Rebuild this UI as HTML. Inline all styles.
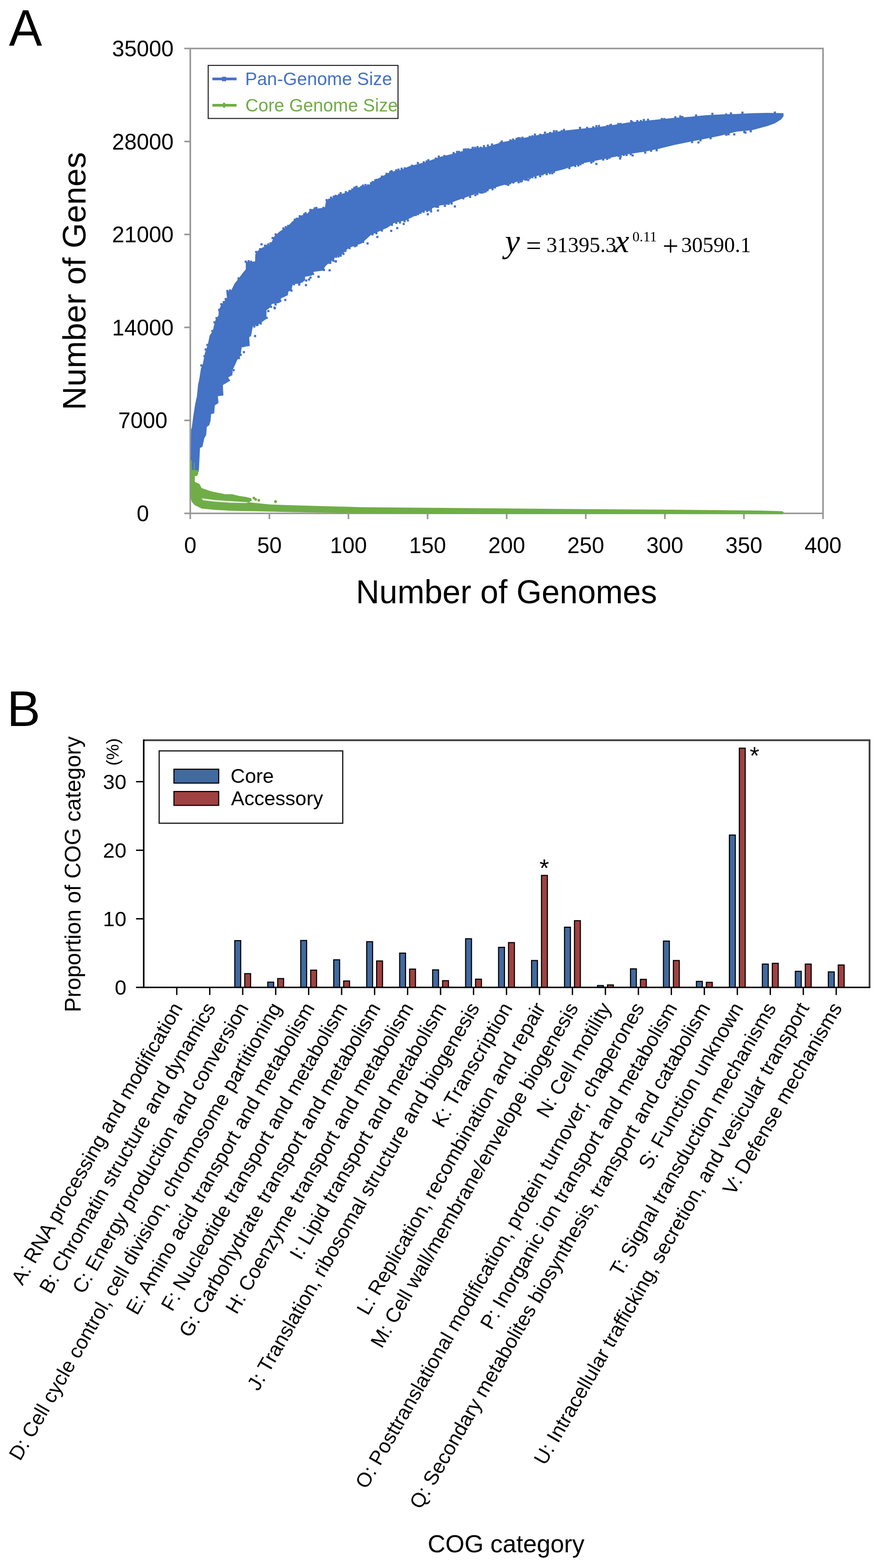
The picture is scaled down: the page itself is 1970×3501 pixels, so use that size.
<!DOCTYPE html>
<html><head><meta charset="utf-8"><title>Pan-genome and COG figure</title>
<style>html,body{margin:0;padding:0;background:#fff;overflow:hidden;}svg{display:block;}</style></head>
<body><svg width="1970" height="3501" viewBox="0 0 1970 3501">
<rect width="1970" height="3501" fill="#fff"/>
<text x="20" y="102.5" font-size="111" font-family="'Liberation Sans', Arial, Helvetica, sans-serif" transform="translate(0,102.5) scale(1,1.035) translate(0,-102.5)">A</text>
<g stroke="#989898" stroke-width="3.6" fill="none" stroke-linecap="butt">
<path d="M411.6,108.3 H1838.3 V1159.0 M425.0,108.3 V1146.2 M411.6,1146.2 H1838.3"/>
<path d="M411.6,938.6 H425.0"/>
<path d="M411.6,731.0 H425.0"/>
<path d="M411.6,523.5 H425.0"/>
<path d="M411.6,315.9 H425.0"/>
<path d="M425.0,1146.2 V1159.0"/>
<path d="M601.7,1146.2 V1159.0"/>
<path d="M778.3,1146.2 V1159.0"/>
<path d="M955.0,1146.2 V1159.0"/>
<path d="M1131.7,1146.2 V1159.0"/>
<path d="M1308.3,1146.2 V1159.0"/>
<path d="M1485.0,1146.2 V1159.0"/>
<path d="M1661.6,1146.2 V1159.0"/>
</g>
<g font-family="'Liberation Sans', Arial, Helvetica, sans-serif" font-size="49.5" text-anchor="middle" fill="#000">
<text x="319" y="1163.8">0</text>
<text x="319" y="956.2">7000</text>
<text x="319" y="748.6">14000</text>
<text x="319" y="541.1">21000</text>
<text x="319" y="333.5">28000</text>
<text x="319" y="125.9">35000</text>
<text x="425.0" y="1235">0</text>
<text x="601.7" y="1235">50</text>
<text x="778.3" y="1235">100</text>
<text x="955.0" y="1235">150</text>
<text x="1131.7" y="1235">200</text>
<text x="1308.3" y="1235">250</text>
<text x="1485.0" y="1235">300</text>
<text x="1661.6" y="1235">350</text>
<text x="1838.3" y="1235">400</text>
</g>
<text x="795" y="1347.3" font-size="73.4" font-family="'Liberation Sans', Arial, Helvetica, sans-serif" textLength="672.6" lengthAdjust="spacingAndGlyphs">Number of Genomes</text>
<text transform="translate(191.2,627.6) rotate(-90)" text-anchor="middle" font-size="73" font-family="'Liberation Sans', Arial, Helvetica, sans-serif">Number of Genes</text>
<path d="M426.0,1030.0 L426.5,975.0 L427.0,958.6 L428.1,956.2 L431.6,930.0 L435.7,903.8 L439.8,884.5 L442.6,856.9 L442.1,860.0 L444.8,848.3 L449.0,822.1 L453.1,812.4 L457.9,787.6 L464.1,769.7 L468.3,749.0 L475.2,739.3 L477.9,726.9 L481.4,714.5 L488.3,703.4 L488.3,693.8 L493.1,682.8 L498.6,675.9 L506.9,664.8 L505.5,652.4 L516.6,648.3 L524.1,633.1 L531.7,623.4 L544.1,606.9 L549.0,601.4 L549.0,584.8 L560.0,584.8 L569.7,583.4 L570.3,567.6 L576.6,559.3 L587.6,551.7 L597.9,549.7 L605.5,543.4 L611.7,529.0 L624.1,517.2 L641.4,506.2 L654.5,493.1 L664.8,487.6 L671.7,481.4 L686.9,476.6 L693.8,467.6 L725.5,463.4 L728.3,449.0 L754.5,435.2 L774.5,429.7 L791.0,420.3 L824.1,413.1 L844.8,398.6 L871.7,384.1 L896.6,379.0 L914.5,371.0 L949.0,362.4 L983.4,350.3 L1018.0,341.7 L1052.4,331.4 L1086.9,328.0 L1121.4,317.6 L1155.9,310.7 L1190.3,303.8 L1224.8,296.9 L1259.3,291.7 L1300.0,287.2 L1334.5,283.8 L1369.0,279.3 L1403.4,273.4 L1437.9,270.0 L1472.4,266.6 L1506.9,263.1 L1541.4,260.7 L1575.9,257.2 L1610.3,255.5 L1644.8,254.5 L1679.3,252.8 L1713.8,252.1 L1750.0,252.8 L1750.0,259.7 L1744.8,266.6 L1731.0,275.2 L1713.8,281.4 L1679.3,290.7 L1644.8,294.1 L1610.3,302.8 L1575.9,309.7 L1541.4,316.6 L1506.9,323.4 L1472.4,332.1 L1437.9,339.0 L1403.4,344.1 L1369.0,351.0 L1334.5,357.9 L1300.0,364.8 L1259.3,377.9 L1224.8,386.6 L1190.3,395.2 L1155.9,405.5 L1121.4,414.1 L1086.9,424.5 L1052.4,436.6 L1018.0,448.5 L1000.0,456.6 L983.5,458.6 L948.3,471.0 L927.6,481.4 L906.9,491.7 L880.0,497.9 L865.5,508.3 L828.3,524.8 L807.6,543.5 L778.6,553.8 L760.0,571.0 L749.0,571.0 L746.2,579.3 L732.4,589.0 L725.5,595.9 L722.8,604.1 L700.7,606.9 L696.6,615.2 L681.4,617.9 L681.4,626.2 L670.3,633.1 L653.8,634.5 L651.0,648.3 L644.1,651.0 L642.8,659.3 L627.6,666.2 L624.8,675.9 L620.0,677.2 L607.6,678.6 L601.4,688.3 L595.2,692.4 L595.2,711.7 L580.0,722.8 L564.8,728.3 L560.7,750.3 L556.6,753.1 L557.9,772.4 L540.0,775.2 L537.2,794.5 L530.3,802.8 L524.8,815.2 L517.9,829.0 L519.3,837.2 L509.7,842.8 L514.3,850.0 L497.8,859.7 L499.0,883.0 L486.7,884.5 L488.0,899.7 L479.8,905.2 L478.4,923.0 L471.6,924.5 L470.2,939.7 L467.4,949.3 L461.9,953.4 L460.5,971.4 L456.4,978.3 L452.2,997.6 L446.7,1000.3 L445.3,1029.3 L444.0,1053.0 L426.0,1053.0 Z" fill="#4472C4"/>
<g fill="#4472C4">
<rect x="447.4" y="813.6" width="4.8" height="4.8"/><rect x="454.4" y="792.8" width="4.8" height="4.8"/><rect x="457.0" y="778.0" width="4.8" height="4.8"/><rect x="460.9" y="767.8" width="4.8" height="4.8"/><rect x="471.9" y="736.5" width="4.8" height="4.8"/><rect x="476.6" y="717.4" width="4.8" height="4.8"/><rect x="481.2" y="707.8" width="4.8" height="4.8"/><rect x="487.2" y="689.4" width="4.8" height="4.8"/><rect x="491.9" y="676.9" width="4.8" height="4.8"/><rect x="497.3" y="672.3" width="4.8" height="4.8"/><rect x="501.7" y="665.3" width="4.8" height="4.8"/><rect x="505.5" y="647.2" width="4.8" height="4.8"/><rect x="511.4" y="646.1" width="4.8" height="4.8"/><rect x="514.8" y="828.6" width="4.8" height="4.8"/><rect x="519.3" y="824.1" width="4.8" height="4.8"/><rect x="530.4" y="619.3" width="4.8" height="4.8"/><rect x="531.2" y="797.1" width="4.8" height="4.8"/><rect x="535.1" y="789.9" width="4.8" height="4.8"/><rect x="540.7" y="770.5" width="4.8" height="4.8"/><rect x="546.5" y="582.0" width="4.8" height="4.8"/><rect x="545.9" y="762.1" width="4.8" height="4.8"/><rect x="552.8" y="580.8" width="4.8" height="4.8"/><rect x="558.3" y="581.9" width="4.8" height="4.8"/><rect x="565.6" y="726.7" width="4.8" height="4.8"/><rect x="569.8" y="560.2" width="4.8" height="4.8"/><rect x="570.8" y="723.4" width="4.8" height="4.8"/><rect x="573.0" y="722.7" width="4.8" height="4.8"/><rect x="578.6" y="554.0" width="4.8" height="4.8"/><rect x="579.9" y="719.8" width="4.8" height="4.8"/><rect x="585.4" y="708.2" width="4.8" height="4.8"/><rect x="589.6" y="546.2" width="4.8" height="4.8"/><rect x="588.8" y="696.7" width="4.8" height="4.8"/><rect x="594.1" y="546.6" width="4.8" height="4.8"/><rect x="593.2" y="707.4" width="4.8" height="4.8"/><rect x="596.9" y="543.2" width="4.8" height="4.8"/><rect x="597.0" y="692.2" width="4.8" height="4.8"/><rect x="602.1" y="540.8" width="4.8" height="4.8"/><rect x="603.1" y="682.6" width="4.8" height="4.8"/><rect x="606.5" y="529.1" width="4.8" height="4.8"/><rect x="613.4" y="521.1" width="4.8" height="4.8"/><rect x="613.1" y="677.5" width="4.8" height="4.8"/><rect x="623.8" y="669.6" width="4.8" height="4.8"/><rect x="630.6" y="507.6" width="4.8" height="4.8"/><rect x="635.8" y="504.7" width="4.8" height="4.8"/><rect x="641.2" y="502.0" width="4.8" height="4.8"/><rect x="648.6" y="646.5" width="4.8" height="4.8"/><rect x="656.0" y="488.1" width="4.8" height="4.8"/><rect x="654.2" y="632.2" width="4.8" height="4.8"/><rect x="660.4" y="486.0" width="4.8" height="4.8"/><rect x="667.2" y="480.4" width="4.8" height="4.8"/><rect x="665.9" y="633.0" width="4.8" height="4.8"/><rect x="671.4" y="626.2" width="4.8" height="4.8"/><rect x="677.1" y="476.1" width="4.8" height="4.8"/><rect x="680.1" y="473.7" width="4.8" height="4.8"/><rect x="681.6" y="623.9" width="4.8" height="4.8"/><rect x="690.9" y="466.3" width="4.8" height="4.8"/><rect x="691.1" y="617.4" width="4.8" height="4.8"/><rect x="696.8" y="609.2" width="4.8" height="4.8"/><rect x="700.4" y="463.0" width="4.8" height="4.8"/><rect x="704.2" y="461.8" width="4.8" height="4.8"/><rect x="720.0" y="461.7" width="4.8" height="4.8"/><rect x="721.2" y="600.4" width="4.8" height="4.8"/><rect x="727.1" y="444.3" width="4.8" height="4.8"/><rect x="732.7" y="443.5" width="4.8" height="4.8"/><rect x="733.4" y="584.4" width="4.8" height="4.8"/><rect x="736.9" y="438.9" width="4.8" height="4.8"/><rect x="735.4" y="584.4" width="4.8" height="4.8"/><rect x="743.2" y="436.6" width="4.8" height="4.8"/><rect x="742.3" y="579.7" width="4.8" height="4.8"/><rect x="747.4" y="434.9" width="4.8" height="4.8"/><rect x="748.2" y="570.8" width="4.8" height="4.8"/><rect x="755.0" y="432.6" width="4.8" height="4.8"/><rect x="753.5" y="570.2" width="4.8" height="4.8"/><rect x="758.5" y="428.9" width="4.8" height="4.8"/><rect x="758.5" y="568.5" width="4.8" height="4.8"/><rect x="764.7" y="564.5" width="4.8" height="4.8"/><rect x="770.1" y="426.5" width="4.8" height="4.8"/><rect x="769.0" y="557.5" width="4.8" height="4.8"/><rect x="778.2" y="424.1" width="4.8" height="4.8"/><rect x="778.1" y="551.6" width="4.8" height="4.8"/><rect x="784.4" y="420.7" width="4.8" height="4.8"/><rect x="789.3" y="416.7" width="4.8" height="4.8"/><rect x="790.3" y="547.1" width="4.8" height="4.8"/><rect x="794.0" y="414.7" width="4.8" height="4.8"/><rect x="793.8" y="545.8" width="4.8" height="4.8"/><rect x="804.7" y="414.8" width="4.8" height="4.8"/><rect x="808.2" y="412.0" width="4.8" height="4.8"/><rect x="808.7" y="537.8" width="4.8" height="4.8"/><rect x="813.8" y="410.6" width="4.8" height="4.8"/><rect x="819.6" y="411.5" width="4.8" height="4.8"/><rect x="826.3" y="406.5" width="4.8" height="4.8"/><rect x="830.1" y="404.0" width="4.8" height="4.8"/><rect x="829.5" y="521.0" width="4.8" height="4.8"/><rect x="835.7" y="400.3" width="4.8" height="4.8"/><rect x="838.9" y="399.2" width="4.8" height="4.8"/><rect x="838.2" y="518.3" width="4.8" height="4.8"/><rect x="850.6" y="391.9" width="4.8" height="4.8"/><rect x="850.6" y="512.3" width="4.8" height="4.8"/><rect x="861.0" y="385.7" width="4.8" height="4.8"/><rect x="869.3" y="381.7" width="4.8" height="4.8"/><rect x="872.2" y="379.9" width="4.8" height="4.8"/><rect x="873.0" y="499.7" width="4.8" height="4.8"/><rect x="882.4" y="377.9" width="4.8" height="4.8"/><rect x="882.7" y="495.3" width="4.8" height="4.8"/><rect x="887.6" y="376.3" width="4.8" height="4.8"/><rect x="891.0" y="494.4" width="4.8" height="4.8"/><rect x="894.6" y="374.4" width="4.8" height="4.8"/><rect x="901.7" y="373.5" width="4.8" height="4.8"/><rect x="901.3" y="491.5" width="4.8" height="4.8"/><rect x="908.8" y="489.8" width="4.8" height="4.8"/><rect x="917.8" y="367.6" width="4.8" height="4.8"/><rect x="926.3" y="477.6" width="4.8" height="4.8"/><rect x="930.9" y="361.6" width="4.8" height="4.8"/><rect x="931.4" y="475.6" width="4.8" height="4.8"/><rect x="936.8" y="472.7" width="4.8" height="4.8"/><rect x="944.0" y="360.1" width="4.8" height="4.8"/><rect x="943.9" y="470.3" width="4.8" height="4.8"/><rect x="950.6" y="358.2" width="4.8" height="4.8"/><rect x="951.4" y="468.5" width="4.8" height="4.8"/><rect x="954.3" y="355.4" width="4.8" height="4.8"/><rect x="955.4" y="466.4" width="4.8" height="4.8"/><rect x="960.2" y="464.9" width="4.8" height="4.8"/><rect x="970.9" y="351.7" width="4.8" height="4.8"/><rect x="972.3" y="459.2" width="4.8" height="4.8"/><rect x="977.6" y="347.2" width="4.8" height="4.8"/><rect x="975.9" y="459.3" width="4.8" height="4.8"/><rect x="990.2" y="345.9" width="4.8" height="4.8"/><rect x="991.3" y="457.2" width="4.8" height="4.8"/><rect x="999.6" y="452.6" width="4.8" height="4.8"/><rect x="1006.3" y="452.1" width="4.8" height="4.8"/><rect x="1010.8" y="339.3" width="4.8" height="4.8"/><rect x="1018.6" y="336.9" width="4.8" height="4.8"/><rect x="1022.5" y="336.8" width="4.8" height="4.8"/><rect x="1033.6" y="331.9" width="4.8" height="4.8"/><rect x="1032.5" y="440.5" width="4.8" height="4.8"/><rect x="1037.9" y="331.2" width="4.8" height="4.8"/><rect x="1043.2" y="330.9" width="4.8" height="4.8"/><rect x="1047.6" y="437.2" width="4.8" height="4.8"/><rect x="1053.4" y="327.7" width="4.8" height="4.8"/><rect x="1058.6" y="327.7" width="4.8" height="4.8"/><rect x="1059.4" y="433.3" width="4.8" height="4.8"/><rect x="1064.3" y="326.0" width="4.8" height="4.8"/><rect x="1063.9" y="430.6" width="4.8" height="4.8"/><rect x="1071.2" y="327.4" width="4.8" height="4.8"/><rect x="1070.3" y="427.4" width="4.8" height="4.8"/><rect x="1074.5" y="427.6" width="4.8" height="4.8"/><rect x="1078.6" y="324.0" width="4.8" height="4.8"/><rect x="1078.3" y="426.3" width="4.8" height="4.8"/><rect x="1082.5" y="425.0" width="4.8" height="4.8"/><rect x="1087.3" y="322.6" width="4.8" height="4.8"/><rect x="1086.6" y="422.3" width="4.8" height="4.8"/><rect x="1096.6" y="320.3" width="4.8" height="4.8"/><rect x="1097.7" y="420.0" width="4.8" height="4.8"/><rect x="1103.1" y="416.0" width="4.8" height="4.8"/><rect x="1115.4" y="316.9" width="4.8" height="4.8"/><rect x="1118.4" y="313.6" width="4.8" height="4.8"/><rect x="1128.4" y="408.7" width="4.8" height="4.8"/><rect x="1132.9" y="410.3" width="4.8" height="4.8"/><rect x="1137.7" y="311.1" width="4.8" height="4.8"/><rect x="1136.9" y="406.7" width="4.8" height="4.8"/><rect x="1143.5" y="309.2" width="4.8" height="4.8"/><rect x="1144.2" y="405.0" width="4.8" height="4.8"/><rect x="1151.4" y="307.8" width="4.8" height="4.8"/><rect x="1155.3" y="306.2" width="4.8" height="4.8"/><rect x="1155.9" y="404.5" width="4.8" height="4.8"/><rect x="1159.0" y="306.6" width="4.8" height="4.8"/><rect x="1160.7" y="402.8" width="4.8" height="4.8"/><rect x="1164.5" y="305.2" width="4.8" height="4.8"/><rect x="1163.5" y="401.5" width="4.8" height="4.8"/><rect x="1170.4" y="398.4" width="4.8" height="4.8"/><rect x="1174.0" y="398.4" width="4.8" height="4.8"/><rect x="1180.8" y="303.2" width="4.8" height="4.8"/><rect x="1180.7" y="395.3" width="4.8" height="4.8"/><rect x="1186.7" y="301.9" width="4.8" height="4.8"/><rect x="1186.5" y="393.3" width="4.8" height="4.8"/><rect x="1192.4" y="298.2" width="4.8" height="4.8"/><rect x="1193.8" y="393.7" width="4.8" height="4.8"/><rect x="1204.2" y="298.6" width="4.8" height="4.8"/><rect x="1204.2" y="391.0" width="4.8" height="4.8"/><rect x="1209.2" y="386.8" width="4.8" height="4.8"/><rect x="1214.8" y="293.8" width="4.8" height="4.8"/><rect x="1218.7" y="386.5" width="4.8" height="4.8"/><rect x="1226.3" y="294.4" width="4.8" height="4.8"/><rect x="1225.9" y="384.4" width="4.8" height="4.8"/><rect x="1231.2" y="384.3" width="4.8" height="4.8"/><rect x="1234.9" y="290.5" width="4.8" height="4.8"/><rect x="1234.8" y="381.6" width="4.8" height="4.8"/><rect x="1240.6" y="290.7" width="4.8" height="4.8"/><rect x="1252.1" y="290.5" width="4.8" height="4.8"/><rect x="1257.3" y="287.6" width="4.8" height="4.8"/><rect x="1269.3" y="372.9" width="4.8" height="4.8"/><rect x="1282.4" y="368.3" width="4.8" height="4.8"/><rect x="1289.2" y="366.9" width="4.8" height="4.8"/><rect x="1293.0" y="283.1" width="4.8" height="4.8"/><rect x="1294.0" y="364.3" width="4.8" height="4.8"/><rect x="1299.1" y="361.6" width="4.8" height="4.8"/><rect x="1309.0" y="283.3" width="4.8" height="4.8"/><rect x="1318.3" y="360.4" width="4.8" height="4.8"/><rect x="1322.7" y="281.9" width="4.8" height="4.8"/><rect x="1322.7" y="357.7" width="4.8" height="4.8"/><rect x="1329.6" y="279.4" width="4.8" height="4.8"/><rect x="1335.4" y="278.8" width="4.8" height="4.8"/><rect x="1344.9" y="353.8" width="4.8" height="4.8"/><rect x="1354.0" y="279.0" width="4.8" height="4.8"/><rect x="1353.8" y="352.3" width="4.8" height="4.8"/><rect x="1359.5" y="278.3" width="4.8" height="4.8"/><rect x="1358.8" y="349.7" width="4.8" height="4.8"/><rect x="1362.2" y="276.4" width="4.8" height="4.8"/><rect x="1378.6" y="274.5" width="4.8" height="4.8"/><rect x="1379.1" y="345.8" width="4.8" height="4.8"/><rect x="1383.5" y="274.3" width="4.8" height="4.8"/><rect x="1383.9" y="347.2" width="4.8" height="4.8"/><rect x="1390.9" y="343.3" width="4.8" height="4.8"/><rect x="1397.0" y="343.6" width="4.8" height="4.8"/><rect x="1407.3" y="268.2" width="4.8" height="4.8"/><rect x="1406.6" y="341.9" width="4.8" height="4.8"/><rect x="1410.0" y="270.4" width="4.8" height="4.8"/><rect x="1421.2" y="268.0" width="4.8" height="4.8"/><rect x="1428.9" y="267.9" width="4.8" height="4.8"/><rect x="1435.7" y="265.5" width="4.8" height="4.8"/><rect x="1438.7" y="338.2" width="4.8" height="4.8"/><rect x="1445.0" y="265.1" width="4.8" height="4.8"/><rect x="1451.9" y="334.2" width="4.8" height="4.8"/><rect x="1464.2" y="333.0" width="4.8" height="4.8"/><rect x="1475.6" y="263.3" width="4.8" height="4.8"/><rect x="1481.3" y="263.5" width="4.8" height="4.8"/><rect x="1506.1" y="259.6" width="4.8" height="4.8"/><rect x="1517.1" y="257.7" width="4.8" height="4.8"/><rect x="1522.0" y="259.1" width="4.8" height="4.8"/><rect x="1543.4" y="314.8" width="4.8" height="4.8"/><rect x="1552.3" y="255.4" width="4.8" height="4.8"/><rect x="1562.1" y="310.8" width="4.8" height="4.8"/><rect x="1584.7" y="306.2" width="4.8" height="4.8"/><rect x="1588.8" y="251.8" width="4.8" height="4.8"/><rect x="1619.4" y="253.2" width="4.8" height="4.8"/><rect x="1619.8" y="298.4" width="4.8" height="4.8"/><rect x="1624.9" y="297.2" width="4.8" height="4.8"/><rect x="1630.2" y="250.9" width="4.8" height="4.8"/><rect x="1655.9" y="249.2" width="4.8" height="4.8"/><rect x="1660.1" y="292.2" width="4.8" height="4.8"/><rect x="1674.4" y="290.7" width="4.8" height="4.8"/><rect x="1728.3" y="249.0" width="4.8" height="4.8"/><rect x="709.0" y="615.5" width="4.8" height="4.8"/><rect x="733.8" y="601.1" width="4.8" height="4.8"/><rect x="747.3" y="581.4" width="4.8" height="4.8"/><rect x="769.0" y="557.6" width="4.8" height="4.8"/><rect x="818.6" y="541.1" width="4.8" height="4.8"/><rect x="840.4" y="526.6" width="4.8" height="4.8"/><rect x="871.4" y="513.1" width="4.8" height="4.8"/><rect x="884.9" y="506.9" width="4.8" height="4.8"/><rect x="899.3" y="497.6" width="4.8" height="4.8"/><rect x="953.1" y="475.9" width="4.8" height="4.8"/><rect x="960.4" y="469.6" width="4.8" height="4.8"/><rect x="975.9" y="467.6" width="4.8" height="4.8"/><rect x="1013.6" y="458.6" width="4.8" height="4.8"/><rect x="1177.6" y="399.6" width="4.8" height="4.8"/><rect x="1329.6" y="363.6" width="4.8" height="4.8"/><rect x="1382.6" y="351.6" width="4.8" height="4.8"/><rect x="1410.6" y="344.6" width="4.8" height="4.8"/><rect x="1557.6" y="315.6" width="4.8" height="4.8"/><rect x="1637.6" y="297.6" width="4.8" height="4.8"/><rect x="1662.6" y="293.6" width="4.8" height="4.8"/><rect x="581.7" y="543.1" width="4.8" height="4.8"/><rect x="709.3" y="615.5" width="4.8" height="4.8"/><rect x="687.9" y="621.7" width="4.8" height="4.8"/><rect x="681.0" y="634.2" width="4.8" height="4.8"/><rect x="634.8" y="667.3" width="4.8" height="4.8"/><rect x="611.4" y="685.9" width="4.8" height="4.8"/><rect x="747.9" y="581.0" width="4.8" height="4.8"/><rect x="567.3" y="747.9" width="4.8" height="4.8"/><rect x="542.4" y="783.8" width="4.8" height="4.8"/><rect x="514.2" y="833.5" width="4.8" height="4.8"/><rect x="610.7" y="684.5" width="4.8" height="4.8"/>
</g>
<path d="M425.5,1028.0 L428.5,1028.0 L428.5,1049.0 L442.8,1050.0 L442.8,1058.0 L440.0,1062.5 L435.2,1063.0 L435.2,1076.0 L445.8,1080.7 L450.3,1089.8 L473.1,1097.4 L503.5,1103.5 L518.6,1103.5 L533.8,1107.3 L549.0,1109.5 L561.1,1112.6 L562.6,1117.1 L556.6,1121.5 L602.0,1126.2 L640.0,1127.7 L808.0,1132.4 L1160.0,1135.6 L1500.0,1138.0 L1700.0,1139.9 L1748.0,1141.5 L1751.0,1145.0 L1748.0,1148.2 L1160.0,1147.8 L808.0,1146.0 L640.0,1143.2 L571.7,1141.6 L526.2,1140.8 L480.7,1138.6 L450.3,1135.5 L435.2,1127.9 L428.3,1120.4 L425.5,1110.0 Z" fill="#70AD47"/>
<path d="M450.3,1112.6 L480.7,1116.4 L511.0,1118.6 L549.0,1120.9 L556.0,1121.6 L549.0,1123.2 L511.0,1122.4 L480.7,1120.2 L453.4,1117.1 Z" fill="#fff" opacity="0.85"/>
<g fill="#70AD47">
<circle cx="567" cy="1112" r="3"/>
<circle cx="571" cy="1115" r="3"/>
<circle cx="578" cy="1117" r="3"/>
<circle cx="615.5" cy="1120" r="3.2"/>
<rect x="425.5" y="1028" width="2.2" height="24"/><rect x="433" y="1033" width="1.6" height="20"/>
</g>
<rect x="465" y="146" width="424" height="118.5" fill="#fff" stroke="#1a1a1a" stroke-width="2.2"/>
<path d="M474.4,176.3 H528.4" stroke="#4472C4" stroke-width="6"/>
<path d="M474.4,235 H528.4" stroke="#70AD47" stroke-width="6"/>
<rect x="496" y="171.4" width="9" height="10" fill="#4472C4"/>
<rect x="498" y="229.4" width="5" height="11.2" fill="#70AD47"/>
<text x="547.4" y="189.7" font-size="40.2" font-family="'Liberation Sans', Arial, Helvetica, sans-serif" fill="#4472C4">Pan-Genome Size</text>
<text x="548" y="249" font-size="40.1" font-family="'Liberation Sans', Arial, Helvetica, sans-serif" fill="#70AD47">Core Genome Size</text>
<g font-family="'Liberation Serif', 'Times New Roman', serif" fill="#000">
<text x="1128" y="562.5" font-size="75" font-style="italic">y</text>
<text x="1175" y="568" font-size="60">=</text>
<text x="1220.6" y="562.5" font-size="48">31395.3</text>
<text x="1373" y="562.5" font-size="73" font-style="italic">x</text>
<text x="1412.5" y="538.7" font-size="32">0.11</text>
<text x="1480" y="571.2" font-size="63">+</text>
<text x="1521.6" y="562.5" font-size="48">30590.1</text>
</g>
<text x="15.5" y="1621" font-size="112" font-family="'Liberation Sans', Arial, Helvetica, sans-serif">B</text>
<rect x="524.40" y="2100.20" width="13.20" height="104.40" fill="#416a9f" stroke="#000" stroke-width="2.4"/>
<rect x="546.60" y="2173.90" width="13.20" height="30.70" fill="#a04141" stroke="#000" stroke-width="2.4"/>
<rect x="598.05" y="2192.90" width="13.20" height="11.70" fill="#416a9f" stroke="#000" stroke-width="2.4"/>
<rect x="620.25" y="2184.90" width="13.20" height="19.70" fill="#a04141" stroke="#000" stroke-width="2.4"/>
<rect x="671.70" y="2099.90" width="13.20" height="104.70" fill="#416a9f" stroke="#000" stroke-width="2.4"/>
<rect x="693.90" y="2166.10" width="13.20" height="38.50" fill="#a04141" stroke="#000" stroke-width="2.4"/>
<rect x="745.35" y="2143.00" width="13.20" height="61.60" fill="#416a9f" stroke="#000" stroke-width="2.4"/>
<rect x="767.55" y="2190.30" width="13.20" height="14.30" fill="#a04141" stroke="#000" stroke-width="2.4"/>
<rect x="819.00" y="2102.60" width="13.20" height="102.00" fill="#416a9f" stroke="#000" stroke-width="2.4"/>
<rect x="841.20" y="2145.60" width="13.20" height="59.00" fill="#a04141" stroke="#000" stroke-width="2.4"/>
<rect x="892.65" y="2128.10" width="13.20" height="76.50" fill="#416a9f" stroke="#000" stroke-width="2.4"/>
<rect x="914.85" y="2163.80" width="13.20" height="40.80" fill="#a04141" stroke="#000" stroke-width="2.4"/>
<rect x="966.30" y="2165.50" width="13.20" height="39.10" fill="#416a9f" stroke="#000" stroke-width="2.4"/>
<rect x="988.50" y="2189.60" width="13.20" height="15.00" fill="#a04141" stroke="#000" stroke-width="2.4"/>
<rect x="1039.95" y="2096.00" width="13.20" height="108.60" fill="#416a9f" stroke="#000" stroke-width="2.4"/>
<rect x="1062.15" y="2186.30" width="13.20" height="18.30" fill="#a04141" stroke="#000" stroke-width="2.4"/>
<rect x="1113.60" y="2115.20" width="13.20" height="89.40" fill="#416a9f" stroke="#000" stroke-width="2.4"/>
<rect x="1135.80" y="2104.60" width="13.20" height="100.00" fill="#a04141" stroke="#000" stroke-width="2.4"/>
<rect x="1187.25" y="2144.60" width="13.20" height="60.00" fill="#416a9f" stroke="#000" stroke-width="2.4"/>
<rect x="1209.45" y="1954.60" width="13.20" height="250.00" fill="#a04141" stroke="#000" stroke-width="2.4"/>
<rect x="1260.90" y="2070.20" width="13.20" height="134.40" fill="#416a9f" stroke="#000" stroke-width="2.4"/>
<rect x="1283.10" y="2055.70" width="13.20" height="148.90" fill="#a04141" stroke="#000" stroke-width="2.4"/>
<rect x="1334.55" y="2200.50" width="13.20" height="4.10" fill="#416a9f" stroke="#000" stroke-width="2.4"/>
<rect x="1356.75" y="2199.10" width="13.20" height="5.50" fill="#a04141" stroke="#000" stroke-width="2.4"/>
<rect x="1408.20" y="2163.20" width="13.20" height="41.40" fill="#416a9f" stroke="#000" stroke-width="2.4"/>
<rect x="1430.40" y="2186.70" width="13.20" height="17.90" fill="#a04141" stroke="#000" stroke-width="2.4"/>
<rect x="1481.85" y="2101.20" width="13.20" height="103.40" fill="#416a9f" stroke="#000" stroke-width="2.4"/>
<rect x="1504.05" y="2144.60" width="13.20" height="60.00" fill="#a04141" stroke="#000" stroke-width="2.4"/>
<rect x="1555.50" y="2191.20" width="13.20" height="13.40" fill="#416a9f" stroke="#000" stroke-width="2.4"/>
<rect x="1577.70" y="2193.40" width="13.20" height="11.20" fill="#a04141" stroke="#000" stroke-width="2.4"/>
<rect x="1629.15" y="1864.50" width="13.20" height="340.10" fill="#416a9f" stroke="#000" stroke-width="2.4"/>
<rect x="1651.35" y="1670.50" width="13.20" height="534.10" fill="#a04141" stroke="#000" stroke-width="2.4"/>
<rect x="1702.80" y="2152.60" width="13.20" height="52.00" fill="#416a9f" stroke="#000" stroke-width="2.4"/>
<rect x="1725.00" y="2150.90" width="13.20" height="53.70" fill="#a04141" stroke="#000" stroke-width="2.4"/>
<rect x="1776.45" y="2168.80" width="13.20" height="35.80" fill="#416a9f" stroke="#000" stroke-width="2.4"/>
<rect x="1798.65" y="2152.60" width="13.20" height="52.00" fill="#a04141" stroke="#000" stroke-width="2.4"/>
<rect x="1850.10" y="2170.00" width="13.20" height="34.60" fill="#416a9f" stroke="#000" stroke-width="2.4"/>
<rect x="1872.30" y="2154.60" width="13.20" height="50.00" fill="#a04141" stroke="#000" stroke-width="2.4"/>
<path d="M321.0,1652.8 H1942.2 V2204.6" stroke="#3d3d3d" stroke-width="4" fill="none"/>
<path d="M321.0,1651 V2204.6 M303.8,2204.6 H1944.0" stroke="#000" stroke-width="3.4" fill="none"/>
<g stroke="#000" stroke-width="3">
<path d="M303.8,2051.5 H321.0"/>
<path d="M303.8,1898.4 H321.0"/>
<path d="M303.8,1745.3 H321.0"/>
<path d="M394.8,2204.6 V2221.6"/>
<path d="M468.5,2204.6 V2221.6"/>
<path d="M542.1,2204.6 V2221.6"/>
<path d="M615.8,2204.6 V2221.6"/>
<path d="M689.4,2204.6 V2221.6"/>
<path d="M763.0,2204.6 V2221.6"/>
<path d="M836.7,2204.6 V2221.6"/>
<path d="M910.4,2204.6 V2221.6"/>
<path d="M984.0,2204.6 V2221.6"/>
<path d="M1057.7,2204.6 V2221.6"/>
<path d="M1131.3,2204.6 V2221.6"/>
<path d="M1205.0,2204.6 V2221.6"/>
<path d="M1278.6,2204.6 V2221.6"/>
<path d="M1352.2,2204.6 V2221.6"/>
<path d="M1425.9,2204.6 V2221.6"/>
<path d="M1499.5,2204.6 V2221.6"/>
<path d="M1573.2,2204.6 V2221.6"/>
<path d="M1646.9,2204.6 V2221.6"/>
<path d="M1720.5,2204.6 V2221.6"/>
<path d="M1794.2,2204.6 V2221.6"/>
<path d="M1867.8,2204.6 V2221.6"/>
</g>
<g font-family="'Liberation Sans', Arial, Helvetica, sans-serif" font-size="47" text-anchor="end">
<text x="282.3" y="2220.8">0</text>
<text x="282.3" y="2067.7">10</text>
<text x="282.3" y="1914.6">20</text>
<text x="282.3" y="1761.5">30</text>
</g>
<text x="1204.9" y="1957" font-size="55" font-family="'Liberation Sans', Arial, Helvetica, sans-serif">*</text>
<text x="1674.6" y="1706.3" font-size="55" font-family="'Liberation Sans', Arial, Helvetica, sans-serif">*</text>
<rect x="355.5" y="1676.6" width="410" height="161.5" fill="none" stroke="#222" stroke-width="2.8"/>
<rect x="388.5" y="1717.5" width="100" height="31" fill="#416a9f" stroke="#000" stroke-width="2.4"/>
<rect x="388.5" y="1767.2" width="100" height="31" fill="#a04141" stroke="#000" stroke-width="2.4"/>
<text x="515" y="1748.3" font-size="44.6" font-family="'Liberation Sans', Arial, Helvetica, sans-serif">Core</text>
<text x="515.9" y="1798" font-size="44.6" font-family="'Liberation Sans', Arial, Helvetica, sans-serif">Accessory</text>
<text transform="translate(180.2,1952.2) rotate(-90)" text-anchor="middle" font-size="49.7" font-family="'Liberation Sans', Arial, Helvetica, sans-serif">Proportion of COG category</text>
<text transform="translate(265,1679) rotate(-90)" text-anchor="middle" font-size="39.7" font-family="'Liberation Sans', Arial, Helvetica, sans-serif">(%)</text>
<text x="955.3" y="3466.3" font-size="54.8" font-family="'Liberation Sans', Arial, Helvetica, sans-serif">COG category</text>
<g font-family="'Liberation Sans', Arial, Helvetica, sans-serif" font-size="45" text-anchor="end">
<text transform="translate(409.3,2250) rotate(-60)">A: RNA processing and modification</text>
<text transform="translate(483.0,2250) rotate(-60)">B: Chromatin structure and dynamics</text>
<text transform="translate(556.6,2250) rotate(-60)">C: Energy production and conversion</text>
<text transform="translate(630.2,2250) rotate(-60)">D: Cell cycle control, cell division, chromosome partitioning</text>
<text transform="translate(703.9,2250) rotate(-60)">E: Amino acid transport and metabolism</text>
<text transform="translate(777.5,2250) rotate(-60)">F: Nucleotide transport and metabolism</text>
<text transform="translate(851.2,2250) rotate(-60)">G: Carbohydrate transport and metabolism</text>
<text transform="translate(924.9,2250) rotate(-60)">H: Coenzyme transport and metabolism</text>
<text transform="translate(998.5,2250) rotate(-60)">I: Lipid transport and metabolism</text>
<text transform="translate(1072.2,2250) rotate(-60)">J: Translation, ribosomal structure and biogenesis</text>
<text transform="translate(1145.8,2250) rotate(-60)">K: Transcription</text>
<text transform="translate(1219.5,2250) rotate(-60)">L: Replication, recombination and repair</text>
<text transform="translate(1293.1,2250) rotate(-60)">M: Cell wall/membrane/envelope biogenesis</text>
<text transform="translate(1366.8,2250) rotate(-60)">N: Cell motility</text>
<text transform="translate(1440.4,2250) rotate(-60)">O: Posttranslational modification, protein turnover, chaperones</text>
<text transform="translate(1514.0,2250) rotate(-60)">P: Inorganic ion transport and metabolism</text>
<text transform="translate(1587.7,2250) rotate(-60)">Q: Secondary metabolites biosynthesis, transport and catabolism</text>
<text transform="translate(1661.4,2250) rotate(-60)">S: Function unknown</text>
<text transform="translate(1735.0,2250) rotate(-60)">T: Signal transduction mechanisms</text>
<text transform="translate(1808.7,2250) rotate(-60)">U: Intracellular trafficking, secretion, and vesicular transport</text>
<text transform="translate(1882.3,2250) rotate(-60)">V: Defense mechanisms</text>
</g>
</svg></body></html>
